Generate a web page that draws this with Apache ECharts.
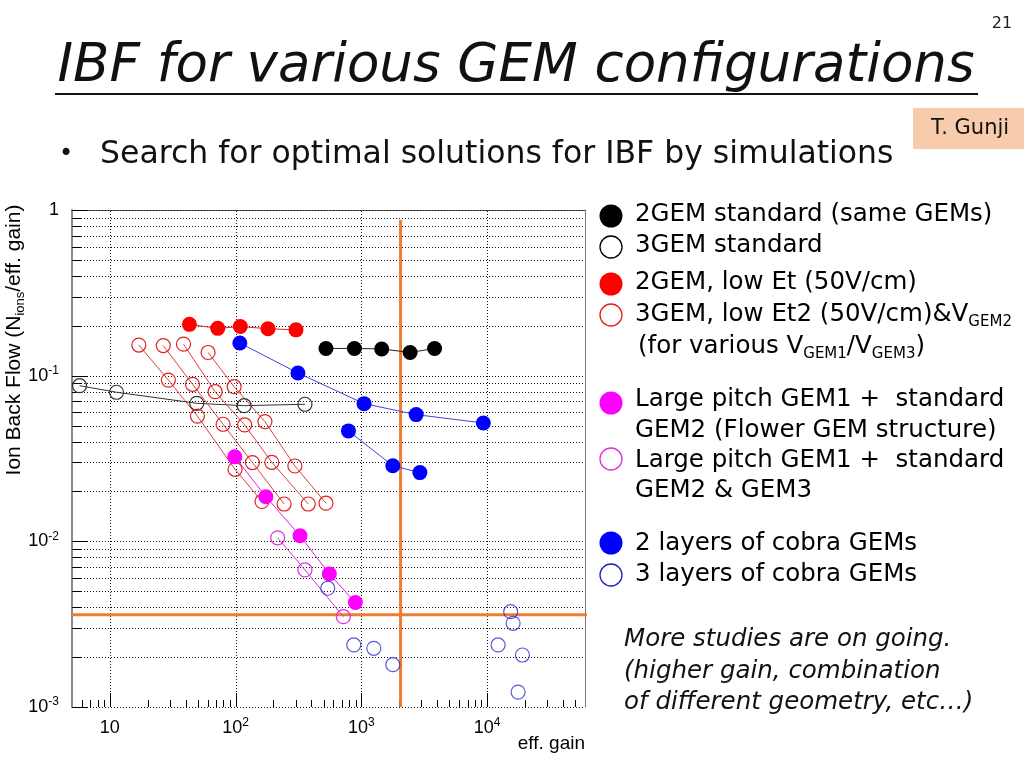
<!DOCTYPE html>
<html>
<head>
<meta charset="utf-8">
<script src="https://cdn.jsdelivr.net/npm/echarts@6/dist/echarts.min.js"></script>
<style>
html,body{margin:0;padding:0;background:#fff;}
#main{width:1024px;height:768px;}
</style>
</head>
<body>
<div id="main"></div>
<script>
// ---------------- data (eff. gain, IBF) ----------------
const xMin = 5, xMax = 60000, yMin = 0.001, yMax = 1;

const gem2Standard   = [[523,0.146],[880,0.146],[1450,0.145],[2440,0.138],[3820,0.146]];
const gem3Standard   = [[5.74,0.087],[11.3,0.0794],[49.1,0.0681],[117,0.0659],[356,0.0672]];
const gem2LowEt      = [[42.9,0.204],[72.1,0.193],[109,0.198],[181,0.192],[302,0.189]];
const gem3LowEt2A    = [[17.0,0.153],[29.2,0.094],[49.7,0.057],[99,0.0272],[162,0.0174]];
const gem3LowEt2B    = [[26.6,0.152],[45.4,0.0887],[79.5,0.0509],[136,0.0299],[243,0.0168]];
const gem3LowEt2C    = [[38.5,0.155],[68.7,0.080],[118,0.0504],[194,0.0300],[378,0.0168]];
const gem3LowEt2D    = [[60.4,0.138],[97.3,0.0858],[171,0.0528],[296,0.0285],[523,0.0170]];
const flowerGem      = [[98.5,0.0324],[174,0.0186],[325,0.0108],[556,0.00636],[896,0.00427]];
const largePitch3GEM = [[216,0.0105],[356,0.00672],[719,0.00351]];
const cobra2A        = [[108,0.1575],[313,0.1038],[1050,0.0678],[2727,0.0582],[9330,0.0518]];
const cobra2B        = [[789,0.0464],[1778,0.0286],[2918,0.0260]];
const cobra3         = [[540,0.00521],[870,0.00237],[1255,0.00226],[1779,0.00180],[12220,0.00237],
                        [15390,0.00376],[16090,0.00320],[17630,0.00123],[19080,0.00206]];
const targetGainLine = [[2050,0.87],[2050,0.001]];
const targetIBFLine  = [[5,0.0036],[70000,0.0036]];

// ---------------- axis ticks ----------------
const xDecadeTicks = [10,100,1000,10000];
const xMinorTicks  = [6,7,8,9,20,30,40,50,60,70,80,90,200,300,400,500,600,700,800,900,
                      2000,3000,4000,5000,6000,7000,8000,9000,20000,30000,40000,50000];
const yDecadeTicks = [0.001,0.01,0.1,1];
const yMinorTicks  = [0.002,0.003,0.004,0.005,0.006,0.007,0.008,0.009,
                      0.02,0.03,0.04,0.05,0.06,0.07,0.08,0.09,
                      0.2,0.3,0.4,0.5,0.6,0.7,0.8,0.9];

const legendLines = [
  {text:'2GEM standard (same GEMs)'},
  {text:'3GEM standard'},
  {text:'2GEM, low Et (50V/cm)'},
  {text:'3GEM, low Et2 (50V/cm)&V{s|GEM2}'},
  {text:'(for various V{s|GEM1}/V{s|GEM3})'},
  {text:'Large pitch GEM1 +  standard'},
  {text:'GEM2 (Flower GEM structure)'},
  {text:'Large pitch GEM1 +  standard'},
  {text:'GEM2 & GEM3'},
  {text:'2 layers of cobra GEMs'},
  {text:'3 layers of cobra GEMs'}
];
const noteLines = ['More studies are on going.','(higher gain, combination','of different geometry, etc\u2026)'];

// ---------------- helpers ----------------
const chart = echarts.init(document.getElementById('main'), null, {renderer:'canvas'});
const SLIDE_FONT = 'DejaVu Sans';
const PLOT_FONT = 'Liberation Sans, Arial, sans-serif';

function isDecade(v){
  const k = Math.round(Math.log10(v));
  return Math.abs(Math.pow(10,k) - v) / v < 1e-6 ? k : null;
}

function lineSer(name, data, color, lineColor, filled, size){
  return {
    name, type:'line', data, z:4,
    symbol:'circle', symbolSize:size, showSymbol:true, showAllSymbol:true,
    lineStyle:{color:lineColor, width:1},
    itemStyle: filled ? {color:color, borderWidth:0}
                      : {color:'rgba(0,0,0,0)', borderColor:color, borderWidth:1.2},
    emphasis:{disabled:true}, animation:false
  };
}

function gridSeries(values, horizontal){
  return {
    type:'custom', z:1, silent:true, animation:false,
    data: values.map(v => horizontal ? [xMin, v] : [v, yMin]),
    renderItem(params, api){
      let a, b;
      if (horizontal){ const v = api.value(1); a = api.coord([xMin, v]); b = api.coord([xMax, v]); }
      else { const v = api.value(0); a = api.coord([v, yMin]); b = api.coord([v, yMax]); }
      const x1 = horizontal ? a[0] : Math.round(a[0]) + 0.5;
      const x2 = horizontal ? b[0] : Math.round(b[0]) + 0.5;
      const y1 = horizontal ? Math.round(a[1]) + 0.5 : a[1];
      const y2 = horizontal ? Math.round(b[1]) + 0.5 : b[1];
      return {type:'line', shape:{x1,y1,x2,y2}, style:{stroke:'#111', lineWidth:1, lineDash:[1,2]}};
    }
  };
}

function tickSeries(values, horizontalAxis, len){
  return {
    type:'custom', z:2, silent:true, animation:false,
    data: values.map(v => horizontalAxis ? [v, yMin] : [xMin, v]),
    renderItem(params, api){
      const p = api.coord([api.value(0), api.value(1)]);
      if (horizontalAxis){
        const x = Math.round(p[0]) + 0.5;
        return {type:'line', shape:{x1:x, y1:p[1], x2:x, y2:p[1]-len}, style:{stroke:'#000', lineWidth:1}};
      }
      const y = Math.round(p[1]) + 0.5;
      return {type:'line', shape:{x1:p[0], y1:y, x2:p[0]+len, y2:y}, style:{stroke:'#000', lineWidth:1}};
    }
  };
}

const axisRich = {
  m:{fontSize:18, lineHeight:22, fontFamily:PLOT_FONT, color:'#000'},
  s:{fontSize:12, lineHeight:12, verticalAlign:'top', fontFamily:PLOT_FONT, color:'#000'}
};

// ---------------- graphics (slide text + legend) ----------------
const graphics = [];
graphics.push({type:'text', x:1002, y:24, style:{text:'21', fontSize:16, fontFamily:SLIDE_FONT, fill:'#222', align:'center', verticalAlign:'middle'}});
graphics.push({type:'text', x:516, y:67, style:{text:'IBF for various GEM configurations', fontSize:53, fontStyle:'italic', fontFamily:SLIDE_FONT, fill:'#111', align:'center', verticalAlign:'middle'}});
graphics.push({type:'rect', shape:{x:55, y:93, width:923, height:2}, style:{fill:'#111'}});
graphics.push({type:'rect', shape:{x:913, y:108, width:111, height:41}, style:{fill:'#F8CBAD'}});
graphics.push({type:'text', x:970, y:129, style:{text:'T. Gunji', fontSize:21, fontFamily:SLIDE_FONT, fill:'#111', align:'center', verticalAlign:'middle'}});
graphics.push({type:'text', x:66, y:155, style:{text:'\u2022', fontSize:24, fontFamily:SLIDE_FONT, fill:'#111', align:'center', verticalAlign:'middle'}});
graphics.push({type:'text', x:100, y:155, style:{text:'Search for optimal solutions for IBF by simulations', fontSize:31.5, fontFamily:SLIDE_FONT, fill:'#111', align:'left', verticalAlign:'middle'}});

// y axis title (rotated)
graphics.push({type:'text', x:14, y:340, rotation:Math.PI/2, style:{
  text:'{m|Ion Back Flow (N}{s|ions}{m|/eff. gain)}', align:'center', verticalAlign:'middle',
  rich:{ m:{fontSize:21, lineHeight:25, fontFamily:PLOT_FONT, color:'#000'},
         s:{fontSize:13, lineHeight:13, verticalAlign:'bottom', fontFamily:PLOT_FONT, color:'#000'} }
}});

// legend
const legendMarkers = [
  {y:216, fill:'#000', stroke:null},
  {y:247, fill:null, stroke:'#000'},
  {y:284, fill:'#FF0000', stroke:null},
  {y:315, fill:null, stroke:'#E02020'},
  {y:403, fill:'#FF00FF', stroke:null},
  {y:459, fill:null, stroke:'#E030E0'},
  {y:543, fill:'#0000FF', stroke:null},
  {y:575, fill:null, stroke:'#2020C0'}
];
legendMarkers.forEach(m => {
  graphics.push({type:'circle', shape:{cx:611, cy:m.y, r: m.fill ? 11.5 : 11},
    style: m.fill ? {fill:m.fill} : {fill:'#fff', stroke:m.stroke, lineWidth:1.3}});
});
const legendY = [215, 246, 283, 315, 347, 400, 431, 461, 491, 544, 575];
const legendX = [635, 635, 635, 635, 638, 635, 635, 635, 635, 635, 635];
legendLines.forEach((l, i) => {
  graphics.push({type:'text', x:legendX[i], y:legendY[i], style:{
    text:'{m|' + l.text.replace(/\{s\|([^}]*)\}/g, '}{s|$1}{m|') + '}',
    align:'left', verticalAlign:'middle',
    rich:{ m:{fontSize:24.5, lineHeight:30, fontFamily:SLIDE_FONT, color:'#111'},
           s:{fontSize:15, lineHeight:15, verticalAlign:'bottom', fontFamily:SLIDE_FONT, color:'#111'} }
  }});
});
const noteY = [640, 672, 703];
noteLines.forEach((t, i) => {
  graphics.push({type:'text', x:624, y:noteY[i], style:{text:t, fontSize:24.5, fontStyle:'italic', fontFamily:SLIDE_FONT, fill:'#111', align:'left', verticalAlign:'middle'}});
});

// ---------------- option ----------------
const option = {
  animation:false,
  backgroundColor:'#fff',
  grid:{left:72, right:439, top:210, bottom:61, containLabel:false},
  xAxis:[{
    type:'log', logBase:10, min:xMin, max:xMax, position:'bottom',
    name:'eff. gain', nameLocation:'end', nameGap:0,
    nameTextStyle:{fontSize:19, fontFamily:PLOT_FONT, color:'#000', align:'right', verticalAlign:'top', padding:[27,0,0,0]},
    axisLine:{show:false}, axisTick:{show:false}, splitLine:{show:false}, minorTick:{show:false},
    axisLabel:{margin:10, rich:axisRich, formatter:(v) => {
      const k = isDecade(v); if (k === null) return '';
      return k === 1 ? '{m|10}' : '{m|10}{s|' + k + '}';
    }}
  },{
    type:'log', logBase:10, min:xMin, max:xMax, position:'top',
    axisLine:{show:true, lineStyle:{color:'#555', width:1}}, axisTick:{show:false}, axisLabel:{show:false}, splitLine:{show:false}
  }],
  yAxis:[{
    type:'log', logBase:10, min:yMin, max:yMax, position:'left',
    axisLine:{show:true, onZero:false, lineStyle:{color:'#888', width:2}}, axisTick:{show:false}, splitLine:{show:false}, minorTick:{show:false},
    axisLabel:{margin:13, rich:axisRich, formatter:(v) => {
      const k = isDecade(v); if (k === null) return '';
      return k === 0 ? '{m|1}' : '{m|10}{s|' + k + '}';
    }}
  },{
    type:'log', logBase:10, min:yMin, max:yMax, position:'right',
    axisLine:{show:true, onZero:false, lineStyle:{color:'#777', width:1}}, axisTick:{show:false}, axisLabel:{show:false}, splitLine:{show:false}
  }],
  graphic:{elements:graphics},
  series:[
    gridSeries(yDecadeTicks.concat(yMinorTicks), true),
    gridSeries(xDecadeTicks, false),
    tickSeries(yDecadeTicks, false, 16),
    tickSeries(yMinorTicks, false, 9),
    tickSeries(xDecadeTicks, true, 14),
    tickSeries(xMinorTicks, true, 7),
    {name:'target gain', type:'line', data:targetGainLine, z:3, symbol:'none', clip:false,
     lineStyle:{color:'#ED7D31', width:3}, silent:true, animation:false},
    {name:'target IBF', type:'line', data:targetIBFLine, z:3, symbol:'none', clip:false,
     lineStyle:{color:'#ED7D31', width:3}, silent:true, animation:false},
    lineSer('3GEM standard', gem3Standard, '#333', '#333', false, 14),
    lineSer('3GEM, low Et2 A', gem3LowEt2A, '#E02020', '#E04040', false, 14),
    lineSer('3GEM, low Et2 B', gem3LowEt2B, '#E02020', '#E04040', false, 14),
    lineSer('3GEM, low Et2 C', gem3LowEt2C, '#E02020', '#E04040', false, 14),
    lineSer('3GEM, low Et2 D', gem3LowEt2D, '#E02020', '#E04040', false, 14),
    lineSer('Large pitch GEM1 + GEM2 & GEM3', largePitch3GEM, '#E030E0', '#E030E0', false, 14),
    lineSer('2GEM standard', gem2Standard, '#000', '#222', true, 15),
    lineSer('2GEM, low Et', gem2LowEt, '#FF0000', '#E02020', true, 15),
    lineSer('Flower GEM', flowerGem, '#FF00FF', '#E020E0', true, 15),
    lineSer('cobra 2 layers A', cobra2A, '#0000FF', '#4040E0', true, 15),
    lineSer('cobra 2 layers B', cobra2B, '#0000FF', '#4040E0', true, 15),
    {name:'3 layers of cobra GEMs', type:'scatter', data:cobra3, z:4, symbol:'circle', symbolSize:14,
     itemStyle:{color:'rgba(0,0,0,0)', borderColor:'#3030D0', borderWidth:1.2}, animation:false}
  ]
};
chart.setOption(option);
</script>
</body>
</html>
